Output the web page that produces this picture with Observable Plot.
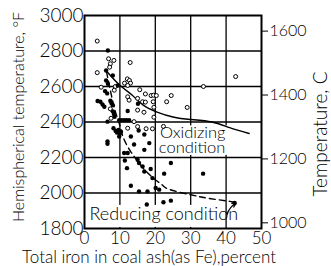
<!DOCTYPE html>
<html><head><meta charset="utf-8">
<script src="https://cdn.jsdelivr.net/npm/d3@7"></script>
<script src="https://cdn.jsdelivr.net/npm/@observablehq/plot@0.6"></script>
<style>body{margin:0;background:#fff}</style>
</head><body><div id="chart"></div>
<script>
// Oxidizing condition (open circles): [iron %, hemispherical temp °F]
const oxX = [3.6,3.6,6.8,8.3,7.3,7.1,12.9,12.1,12.7,11.3,13,12.2,4.7,8.7,8.4,12.2,12.6,15,16.4,15,7.5,14,15,12.2,15.6,17.2,18.8,19.5,20.3,24.5,17.2,19.4,23.2,33.6,29,19.6,42.7,22.3,19.6,17.4,19.2,16.8,7.3];
const oxF = [2856,2678,2756,2747,2728,2709,2735,2643,2634,2619,2619,2606,2596,2600,2579,2542,2523,2533,2514,2467,2421,2402,2374,2365,2582,2558,2549,2551,2549,2549,2512,2514,2514,2600,2482,2427,2656,2375,2483,2362,2362,2455,2474];
// Reducing condition (filled dots)
const redX = [6.6,6.1,8,6.1,6.6,9.4,5.8,6.4,3.7,4.5,5.1,5.6,7.3,7.6,8,12.2,8,8.3,8.5,9.8,10.5,11.2,11.9,12.6,6.5,8.2,8.8,9.2,9.6,10,10.3,6.5,9.8,13.1,15.3,16.9,15.1,6.5,14,18.3,16.9,11.2,12.2,11.4,12,15,15.4,16.4,16.9,18.7,19.2,13.1,15.4,17.8,20.1,21.1,17.6,24.4,22.5,33.5,22.3,24.4,42.4];
const redF = [2803,2690,2662,2634,2615,2606,2574,2561,2518,2514,2499,2486,2520,2507,2495,2462,2460,2445,2430,2410,2410,2410,2410,2410,2402,2365,2350,2340,2355,2335,2345,2290,2318,2318,2352,2330,2503,2277,2273,2281,2243,2225,2225,2183,2140,2187,2169,2150,2121,2135,2084,2041,2009,2009,2028,2019,1935,2169,2109,2109,1948,1957,1944];
// Fitted curves
const oxCurveX = [6,10,13.5,16.6,20.5,25,30,36,41,46.5];
const oxCurveF = [2692,2607,2551,2495,2456,2428,2414,2400,2368,2335];
const redCurveX = [6.2,7.5,8.7,10,11,13,15,17,20,22,24,30,35,41,42.6];
const redCurveF = [2685,2560,2460,2380,2310,2235,2180,2130,2075,2045,2020,1990,1970,1953,1945];
// Axes
const xTicks = [0,10,20,30,40,50];
const fTicks = [1800,2000,2200,2400,2600,2800,3000];
const cTicks = [1000,1200,1400,1600];
const xGrid = [10,20,30,40];
const fGrid = [2000,2200,2400,2600,2800];
// Annotations
const oxLabel = ["Oxidizing\ncondition"], oxLabelX = [39.8], oxLabelF = [2224];
const redLabel = ["Reducing condition"], redLabelX = [1.4], redLabelF = [1846];
const boxX1 = [21.9,0.9];
const boxX2 = [40.4,39.7];
const boxF1 = [2378,1930];
const boxF2 = [2212,1806];
const leaderX1 = [40.3], leaderF1 = [1880], leaderX2 = [42.8], leaderF2 = [1942];

const toF = c => c*9/5+32;
const toC = f => String(Math.round((f-32)*5/9));
const ox = oxX.map((x,i)=>({x, y: oxF[i]}));
const red = redX.map((x,i)=>({x, y: redF[i]}));
const oxCurve = oxCurveX.map((x,i)=>({x, y: oxCurveF[i]}));
const redCurve = redCurveX.map((x,i)=>({x, y: redCurveF[i]}));
const oxAnn = oxLabel.map((t,i)=>({t, x: oxLabelX[i], y: oxLabelF[i]}));
const redAnn = redLabel.map((t,i)=>({t, x: redLabelX[i], y: redLabelF[i]}));
const boxes = boxX1.map((x1,i)=>({x1, x2: boxX2[i], y1: boxF1[i], y2: boxF2[i]}));
const leaders = leaderX1.map((x1,i)=>({x1, y1: leaderF1[i], x2: leaderX2[i], y2: leaderF2[i]}));

const chart = Plot.plot({
  width: 331, height: 266,
  marginLeft: 84, marginRight: 70, marginTop: 15, marginBottom: 38,
  style: {fontFamily: "Lato, Liberation Sans, Arial, sans-serif", fontWeight: 300, color: "#000", background: "#fff"},
  x: {domain: [0,50]},
  y: {domain: [1800,3000]},
  marks: [
    Plot.ruleX(xGrid, {stroke: "#000", strokeWidth: 1.3}),
    Plot.ruleY(fGrid, {stroke: "#000", strokeWidth: 1.3}),
    Plot.rect(boxes, {x1: "x1", x2: "x2", y1: "y1", y2: "y2", fill: "#fff"}),
    Plot.frame({stroke: "#000", strokeWidth: 2}),
    Plot.axisY({ticks: fTicks, tickSize: 0, tickPadding: 1, fontSize: 19, fontWeight: 300, label: null, tickFormat: d => String(d)}),
    Plot.axisY({anchor: "right", ticks: cTicks.map(toF), tickFormat: toC, tickSize: 6, tickPadding: 2, fontSize: 16, fontWeight: 300, label: null}),
    Plot.axisX({ticks: xTicks, tickSize: 0, tickPadding: 3, fontSize: 17, fontWeight: 300, label: null}),
    Plot.text(["Hemispherical temperature, °F"], {frameAnchor: "left", textAnchor: "middle", rotate: -90, dx: -66, dy: -5, fontSize: 16, fontWeight: 300}),
    Plot.text(["Temperature, C"], {frameAnchor: "right", textAnchor: "middle", rotate: -90, dx: 59, dy: 12, fontSize: 19, fontWeight: 300}),
    Plot.text(["Total iron in coal ash(as Fe),percent"], {frameAnchor: "bottom", lineAnchor: "bottom", dx: -24, dy: 34, fontSize: 17, fontWeight: 300}),
    Plot.line(oxCurve, {x: "x", y: "y", curve: "natural", stroke: "#000", strokeWidth: 1.4}),
    Plot.line(redCurve, {x: "x", y: "y", curve: "natural", stroke: "#000", strokeWidth: 1.4, strokeDasharray: "6,4"}),
    Plot.dot(ox, {x: "x", y: "y", r: 2, stroke: "#000", strokeWidth: 1, fill: "#fff"}),
    Plot.dot(red, {x: "x", y: "y", r: 2.2, fill: "#000", stroke: "none"}),
    Plot.text(oxAnn, {x: "x", y: "y", text: "t", textAnchor: "end", fontSize: 16.5, fontWeight: 300, lineHeight: 0.9, lineAnchor: "bottom"}),
    Plot.text(redAnn, {x: "x", y: "y", text: "t", textAnchor: "start", fontSize: 18, fontWeight: 300, lineAnchor: "bottom"}),
    Plot.arrow(leaders, {x1: "x1", y1: "y1", x2: "x2", y2: "y2", bend: true, stroke: "#000", strokeWidth: 1.3, headLength: 5})
  ]
});
document.getElementById("chart").appendChild(chart);
</script>
</body></html>
